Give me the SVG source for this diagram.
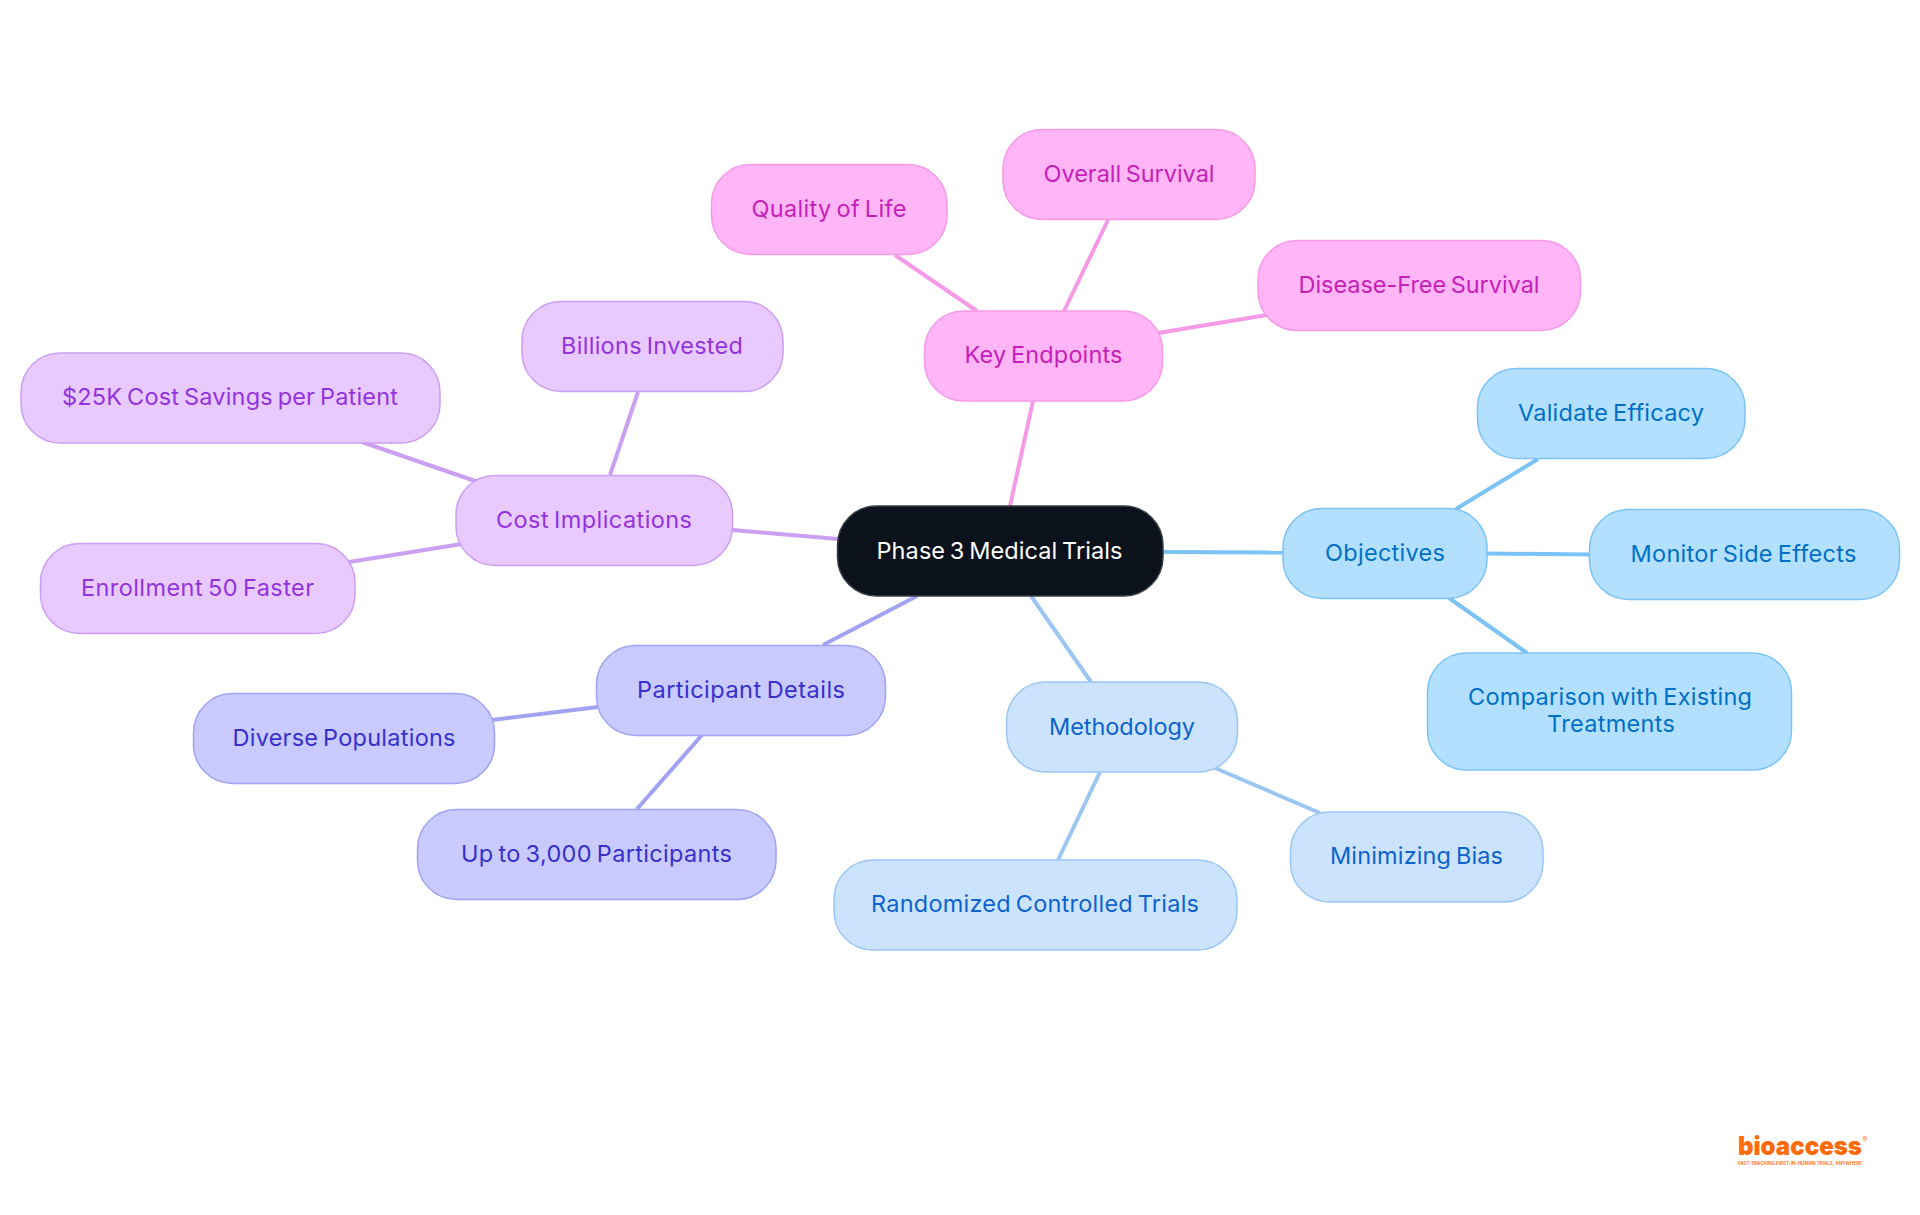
<svg xmlns="http://www.w3.org/2000/svg" width="1920" height="1215" viewBox="0 0 1920 1215">
<style>
text{font-family:"Inter","Noto Sans","Liberation Sans",sans-serif;font-size:23.5px;font-weight:400;word-spacing:-2px;text-anchor:middle}
.c line{stroke-width:4;fill:none}
.n rect{stroke-width:1.5}
.root rect{fill:#0b121b;stroke:#3b3f45}.root text{fill:#fff}
.obj rect{fill:#b3e0ff;stroke:#7cc3f5}.obj text{fill:#0070c5}
.met rect{fill:#cce3fd;stroke:#9cc6f2}.met text{fill:#0c63cb}
.par rect{fill:#c9caff;stroke:#a1a3f2}.par text{fill:#3730cc}
.cos rect{fill:#e8caff;stroke:#cb9ff2}.cos text{fill:#9333dc}
.key rect{fill:#ffb5f6;stroke:#f69ae8}.key text{fill:#c41fb8}
.l1{font-size:26px;font-weight:900;fill:#ff6b0a;word-spacing:0;text-anchor:start}
.l2{font-size:4.6px;font-weight:600;fill:#ff6b0a;word-spacing:0;text-anchor:start}
.l3{font-size:7px;font-weight:700;fill:#ff6b0a;word-spacing:0;text-anchor:start}
</style>
<g id="connectors" class="c">
<g><line x1="1163" y1="552" x2="1283" y2="552.5" stroke="#7cc3f5"/><line x1="1456" y1="509" x2="1538" y2="459" stroke="#7cc3f5"/><line x1="1487" y1="553.5" x2="1589" y2="554.5" stroke="#7cc3f5"/><line x1="1449" y1="598" x2="1527" y2="653" stroke="#7cc3f5"/></g>
<g><line x1="1031" y1="596" x2="1091" y2="682" stroke="#9cc6f2"/><line x1="1100" y1="772" x2="1058" y2="860" stroke="#9cc6f2"/><line x1="1215" y1="768" x2="1320" y2="813" stroke="#9cc6f2"/></g>
<g><line x1="917" y1="596" x2="823" y2="645" stroke="#a1a3f2"/><line x1="598" y1="707" x2="492" y2="720" stroke="#a1a3f2"/><line x1="702" y1="735" x2="637" y2="809" stroke="#a1a3f2"/></g>
<g><line x1="838" y1="539" x2="733" y2="530" stroke="#cb9ff2"/><line x1="610" y1="475" x2="638" y2="392" stroke="#cb9ff2"/><line x1="478" y1="482" x2="362" y2="442" stroke="#cb9ff2"/><line x1="462" y1="544" x2="349" y2="562" stroke="#cb9ff2"/></g>
<g><line x1="1010" y1="506" x2="1033" y2="401" stroke="#f69ae8"/><line x1="977" y1="311" x2="895" y2="255" stroke="#f69ae8"/><line x1="1064" y1="311" x2="1108" y2="220" stroke="#f69ae8"/><line x1="1158" y1="333" x2="1267" y2="315" stroke="#f69ae8"/></g>
</g>
<g id="root" class="n root"><rect x="837.5" y="506" width="325.5" height="90" rx="39"/><text x="999.5" y="558.5" textLength="246">Phase 3 Medical Trials</text></g>
<g id="objectives" class="n obj"><rect x="1283" y="508.5" width="204" height="90" rx="39"/><text x="1385" y="560.5" textLength="120">Objectives</text></g>
<g id="validate" class="n obj"><rect x="1477.500" y="368.5" width="267.500" height="90" rx="39"/><text x="1611" y="421" textLength="186">Validate Efficacy</text></g>
<g id="monitor" class="n obj"><rect x="1589.500" y="509.500" width="310" height="90" rx="39"/><text x="1743.500" y="561.5" textLength="226">Monitor Side Effects</text></g>
<g id="comparison" class="n obj"><rect x="1427.5" y="653" width="364" height="117" rx="39"/><text x="1610" y="705" textLength="284">Comparison with Existing</text><text x="1611" y="732" textLength="128">Treatments</text></g>
<g id="methodology" class="n met"><rect x="1006.5" y="682" width="231" height="90" rx="39"/><text x="1122" y="734.5" textLength="146">Methodology</text></g>
<g id="bias" class="n met"><rect x="1290.500" y="812" width="252.500" height="90" rx="39"/><text x="1416.500" y="864" textLength="173">Minimizing Bias</text></g>
<g id="rct" class="n met"><rect x="834" y="860" width="403" height="90" rx="39"/><text x="1035" y="911.5" textLength="328">Randomized Controlled Trials</text></g>
<g id="participant" class="n par"><rect x="596.5" y="645.5" width="289" height="90" rx="39"/><text x="741" y="698" textLength="208">Participant Details</text></g>
<g id="diverse" class="n par"><rect x="193.5" y="693.5" width="301" height="90" rx="39"/><text x="344" y="746" textLength="223">Diverse Populations</text></g>
<g id="upto" class="n par"><rect x="417.500" y="809.500" width="358.500" height="90" rx="39"/><text x="596.500" y="862" textLength="271">Up to 3,000 Participants</text></g>
<g id="cost" class="n cos"><rect x="456" y="475.500" width="276.500" height="90" rx="39"/><text x="594" y="528" textLength="196">Cost Implications</text></g>
<g id="billions" class="n cos"><rect x="522" y="301.500" width="261" height="90" rx="39"/><text x="652" y="354" textLength="182">Billions Invested</text></g>
<g id="savings" class="n cos"><rect x="21" y="353" width="419" height="90" rx="39"/><text x="230" y="405" textLength="336">$25K Cost Savings per Patient</text></g>
<g id="enrollment" class="n cos"><rect x="40.500" y="543.500" width="314.500" height="90" rx="39"/><text x="197.500" y="596" textLength="233">Enrollment 50 Faster</text></g>
<g id="endpoints" class="n key"><rect x="924.500" y="311" width="238" height="90" rx="39"/><text x="1043.500" y="363" textLength="158">Key Endpoints</text></g>
<g id="quality" class="n key"><rect x="711.500" y="164.500" width="235.500" height="90" rx="39"/><text x="829" y="217" textLength="155">Quality of Life</text></g>
<g id="overall" class="n key"><rect x="1003" y="129.500" width="252" height="90" rx="39"/><text x="1129" y="182" textLength="171">Overall Survival</text></g>
<g id="disease" class="n key"><rect x="1258" y="240.500" width="322.500" height="90" rx="39"/><text x="1419" y="293" textLength="241">Disease-Free Survival</text></g>
<g id="logo"><text class="l1" x="1738" y="1155" textLength="124" lengthAdjust="spacingAndGlyphs">bioaccess</text><text class="l3" x="1862.500" y="1142">®</text><text class="l2" x="1738" y="1164.500" textLength="124">FAST-TRACKING FIRST-IN-HUMAN TRIALS, ANYWHERE</text></g>
</svg>
